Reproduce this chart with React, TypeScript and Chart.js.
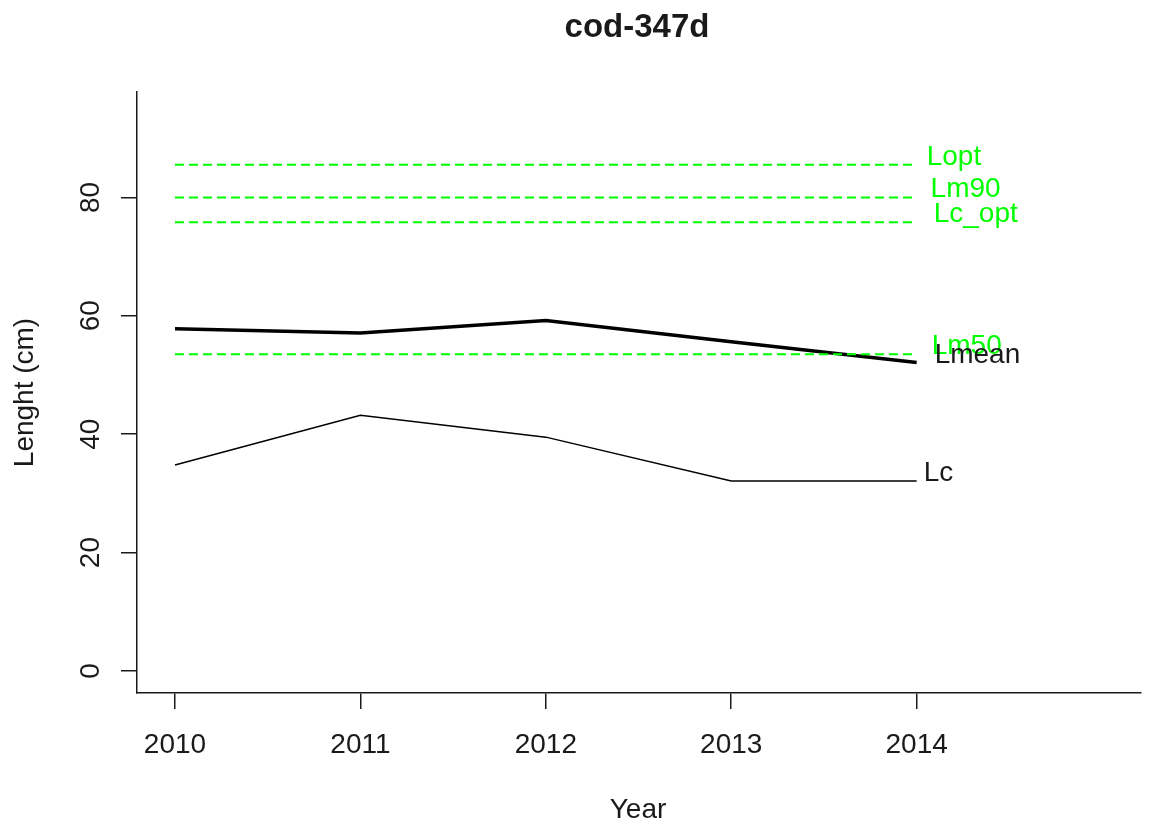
import React, { useEffect, useRef } from "react";
import { Chart, registerables } from "chart.js";

Chart.register(...registerables);

const FF = "'Liberation Sans', Arial, Helvetica, sans-serif";

const chartTitle = "cod-347d";
const xTitle = "Year";
const yTitle = "Lenght (cm)";

const years = [2010, 2011, 2012, 2013, 2014];
const yTicks = [0, 20, 40, 60, 80];

const lmean = [57.8, 57.1, 59.2, 55.6, 52.1];
const lc = [34.8, 43.2, 39.5, 32.1, 32.1];

const refNames = ["Lopt", "Lm90", "Lc_opt", "Lm50"];
const refValues = [85.5, 80.0, 75.8, 53.5];

const labelNames = ["Lopt", "Lm90", "Lc_opt", "Lm50", "Lmean", "Lc"];
const labelX = [2014.054, 2014.075, 2014.092, 2014.081, 2014.097, 2014.038];
const labelY = [85.5, 80.0, 75.8, 53.5, 52.1, 32.1];
const labelColors = ["#00ff00", "#00ff00", "#00ff00", "#00ff00", "#1a1a1a", "#1a1a1a"];

const textPlugin = {
  id: "rText",
  afterDraw(chart: any) {
    const ctx = chart.ctx as CanvasRenderingContext2D;
    const xs = chart.scales.x;
    const ys = chart.scales.y;
    const ca = chart.chartArea;
    const cx = (ca.left + ca.right) / 2;
    const cy = (ca.top + ca.bottom) / 2;
    ctx.save();
    ctx.fillStyle = "#1a1a1a";
    ctx.textBaseline = "alphabetic";
    ctx.textAlign = "center";
    ctx.font = `bold 33px ${FF}`;
    ctx.fillText(chartTitle, cx - 2, 37);

    ctx.font = `28px ${FF}`;
    years.forEach((yr) => {
      ctx.fillText(String(yr), xs.getPixelForValue(yr), 753);
    });
    ctx.fillText(xTitle, cx - 1, 818);

    yTicks.forEach((v) => {
      ctx.save();
      ctx.translate(99, ys.getPixelForValue(v));
      ctx.rotate(-Math.PI / 2);
      ctx.fillText(String(v), 0, 0);
      ctx.restore();
    });

    ctx.save();
    ctx.translate(33, cy);
    ctx.rotate(-Math.PI / 2);
    ctx.fillText(yTitle, 0, 0);
    ctx.restore();

    ctx.textAlign = "left";
    labelNames.forEach((name, i) => {
      ctx.fillStyle = labelColors[i];
      ctx.fillText(name, xs.getPixelForValue(labelX[i]), ys.getPixelForValue(labelY[i]));
    });
    ctx.restore();
  },
};

export default function App() {
  const ref = useRef<HTMLCanvasElement | null>(null);
  useEffect(() => {
    if (!ref.current) return;
    const refSets = refValues.map((v, i) => ({
      label: refNames[i],
      data: [
        { x: years[0], y: v },
        { x: years[years.length - 1], y: v },
      ],
      borderColor: "#00ff00",
      borderWidth: 2,
      borderDash: [9, 5],
      pointRadius: 0,
      tension: 0,
    }));
    const chart = new Chart(ref.current, {
      type: "line",
      data: {
        datasets: [
          ...refSets,
          {
            label: "Lmean",
            data: years.map((x, i) => ({ x, y: lmean[i] })),
            borderColor: "#000000",
            borderWidth: 3.5,
            pointRadius: 0,
            tension: 0,
          },
          {
            label: "Lc",
            data: years.map((x, i) => ({ x, y: lc[i] })),
            borderColor: "#000000",
            borderWidth: 1.5,
            pointRadius: 0,
            tension: 0,
          },
        ],
      },
      options: {
        animation: false,
        responsive: false,
        devicePixelRatio: 1,
        layout: { padding: { top: 92, right: 11, left: 0, bottom: 0 } },
        plugins: {
          legend: { display: false },
          title: { display: false },
          tooltip: { enabled: false },
        },
        scales: {
          x: {
            type: "linear",
            min: 2009.795,
            max: 2015.21,
            afterBuildTicks: (s: any) => {
              s.ticks = years.map((v) => ({ value: v }));
            },
            afterFit: (s: any) => {
              s.height = 139;
            },
            ticks: { display: false },
            grid: {
              drawOnChartArea: false,
              drawTicks: true,
              tickLength: 16,
              color: "#1a1a1a",
              lineWidth: 1.5,
            },
            border: { display: true, color: "#1a1a1a", width: 1.5 },
          },
          y: {
            type: "linear",
            min: -3.72,
            max: 97.8,
            afterBuildTicks: (s: any) => {
              s.ticks = yTicks.map((v) => ({ value: v }));
            },
            afterFit: (s: any) => {
              s.width = 137;
            },
            ticks: { display: false },
            grid: {
              drawOnChartArea: false,
              drawTicks: true,
              tickLength: 16,
              color: "#1a1a1a",
              lineWidth: 1.5,
            },
            border: { display: true, color: "#1a1a1a", width: 1.5 },
          },
        },
      },
      plugins: [textPlugin],
    });
    return () => chart.destroy();
  }, []);
  return (
    <div style={{ position: "absolute", left: 0, top: 0, width: 1152, height: 832, background: "#fff" }}>
      <canvas ref={ref} width={1152} height={832} />
    </div>
  );
}
